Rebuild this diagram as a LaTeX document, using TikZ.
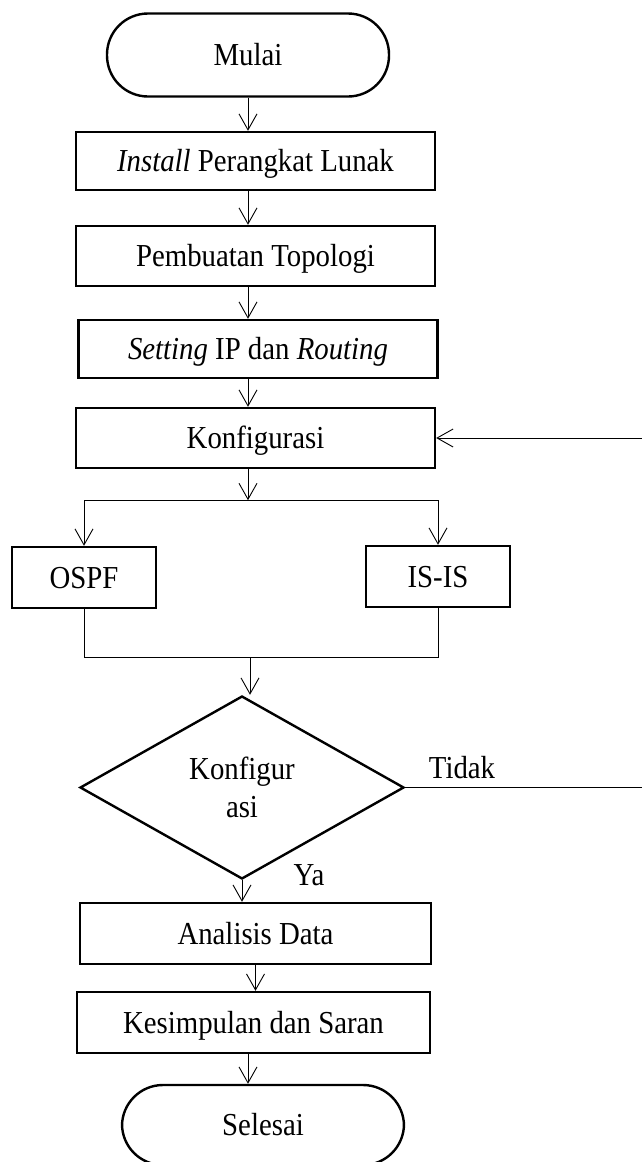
\documentclass[tikz,border=0pt]{standalone}
\usepackage{fontspec}
\setmainfont{Liberation Serif}[FakeStretch=0.9]
\usetikzlibrary{arrows.meta, positioning, calc, shapes.geometric}

\begin{document}
\begin{tikzpicture}[
    x=1pt, y=-1pt,
    every node/.style={font=\fontsize{32}{38}\selectfont},
    box/.style={rectangle, draw=black, line width=2.4pt, minimum width=359pt, minimum height=60pt, align=center, inner sep=0pt, text height=21.5pt, text depth=0pt},
    smallbox/.style={box, minimum width=144pt, minimum height=61pt},
    terminal/.style={box, rounded corners=41pt, minimum width=282pt, minimum height=83pt},
    decision/.style={diamond, draw=black, line width=2.4pt, minimum width=324pt, minimum height=183pt, align=center, inner sep=0pt},
    arrow/.style={-{Straight Barb[length=16pt, width=18pt]}, line width=0.9pt},
    link/.style={line width=0.9pt},
    answer/.style={inner sep=0pt}
]
    \useasboundingbox (0,0) rectangle (641,1162);

    % Nodes
    \node[terminal] (mulai) at (248,55) {Mulai};
    \node[box, minimum height=58pt] (install) at (255.5,161) {\textit{Install} Perangkat Lunak};
    \node[box] (topo) at (255.5,256) {Pembuatan Topologi};
    \node[box, minimum height=58pt] (setting) at (258,349) {\textit{Setting} IP dan \textit{Routing}};
    \node[box] (konfig) at (255.5,438) {Konfigurasi};

    % Routing protocols
    \node[smallbox] (ospf) at (84,577.5) {OSPF};
    \node[smallbox] (isis) at (438,576.5) {IS-IS};

    % Decision
    \node[decision] (cek) at (242,787.5) {Konfigur\\asi};
    \node[answer] (tidak) at (462,768) {Tidak};
    \node[answer] (ya) at (309,875) {Ya};

    % Final steps
    \node[box, minimum width=351pt, minimum height=61pt] (analisis) at (255.5,933.5) {Analisis Data};
    \node[box, minimum width=353pt, minimum height=61pt] (simpulan) at (253.5,1022.5) {Kesimpulan dan Saran};
    \node[terminal, minimum height=80pt] (selesai) at (263,1125) {Selesai};

    % Main flow
    \draw[arrow] (mulai.south) -- (mulai.south |- install.north);
    \draw[arrow] (install.south -| mulai) -- (topo.north -| mulai);
    \draw[arrow] (topo.south -| mulai) -- (setting.north -| mulai);
    \draw[arrow] (setting.south -| mulai) -- (konfig.north -| mulai);

    % Split into OSPF and IS-IS
    \coordinate (split) at ($(konfig.south -| mulai)+(0,31)$);
    \draw[arrow] (konfig.south -| mulai) -- (split);
    \draw[link] (ospf.north |- split) -- (isis.north |- split);
    \draw[arrow] (ospf.north |- split) -- (ospf.north);
    \draw[arrow] (isis.north |- split) -- (isis.north);

    % Join into decision
    \coordinate (join) at (250,657);
    \draw[link] (ospf.south) -- (ospf.south |- join) -- (isis.south |- join) -- (isis.south);
    \draw[arrow] (join) -- (join |- cek.north);

    % Ya / Tidak
    \draw[arrow] (cek.south) -- (cek.south |- analisis.north);
    \draw[arrow] (cek.east) -- ++(246,0) |- (konfig.east);

    \draw[arrow] (analisis.south) -- (analisis.south |- simpulan.north);
    \draw[arrow] (simpulan.south -| mulai) -- (selesai.north -| mulai);

\end{tikzpicture}
\end{document}
